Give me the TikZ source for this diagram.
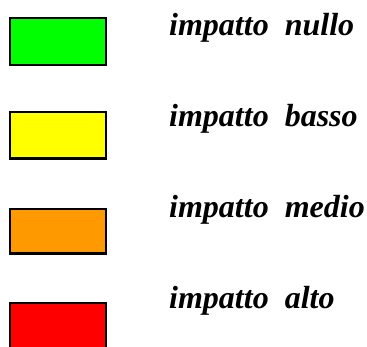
\documentclass[tikz,border=0pt]{standalone}
\usepackage{fontspec}
\setmainfont{Liberation Serif}
\definecolor{lvnull}{RGB}{0,255,0}
\definecolor{lvlow}{RGB}{255,255,0}
\definecolor{lvmid}{RGB}{255,153,0}
\definecolor{lvhigh}{RGB}{255,0,0}
\begin{document}
\begin{tikzpicture}[x=1pt,y=-1pt,
  swatch/.style={draw=black,line width=2.2pt},
  lbl/.style={anchor=base west,inner sep=0pt,
    font=\fontsize{32}{36}\selectfont\bfseries\itshape}]
\useasboundingbox (0,0) rectangle (367,347);
\clip (0,0) rectangle (367,347);
% colour swatches
\filldraw[swatch,fill=lvnull] (10,18) rectangle (106,65);
\filldraw[swatch,fill=lvlow]  (10,112) rectangle (106,158.5);
\filldraw[swatch,fill=lvmid]  (10,209) rectangle (106,253.5);
\filldraw[swatch,fill=lvhigh] (10,303) rectangle (106,352);
% labels
\node[lbl] (n1) at (169,36) {impatto\ \ nullo};
\node[lbl] (n2) at (169,127) {impatto\ \ basso};
\node[lbl] (n3) at (169,218) {impatto\ \ medio};
\node[lbl] (n4) at (169,309) {impatto\ \ alto};
\end{tikzpicture}
\end{document}
